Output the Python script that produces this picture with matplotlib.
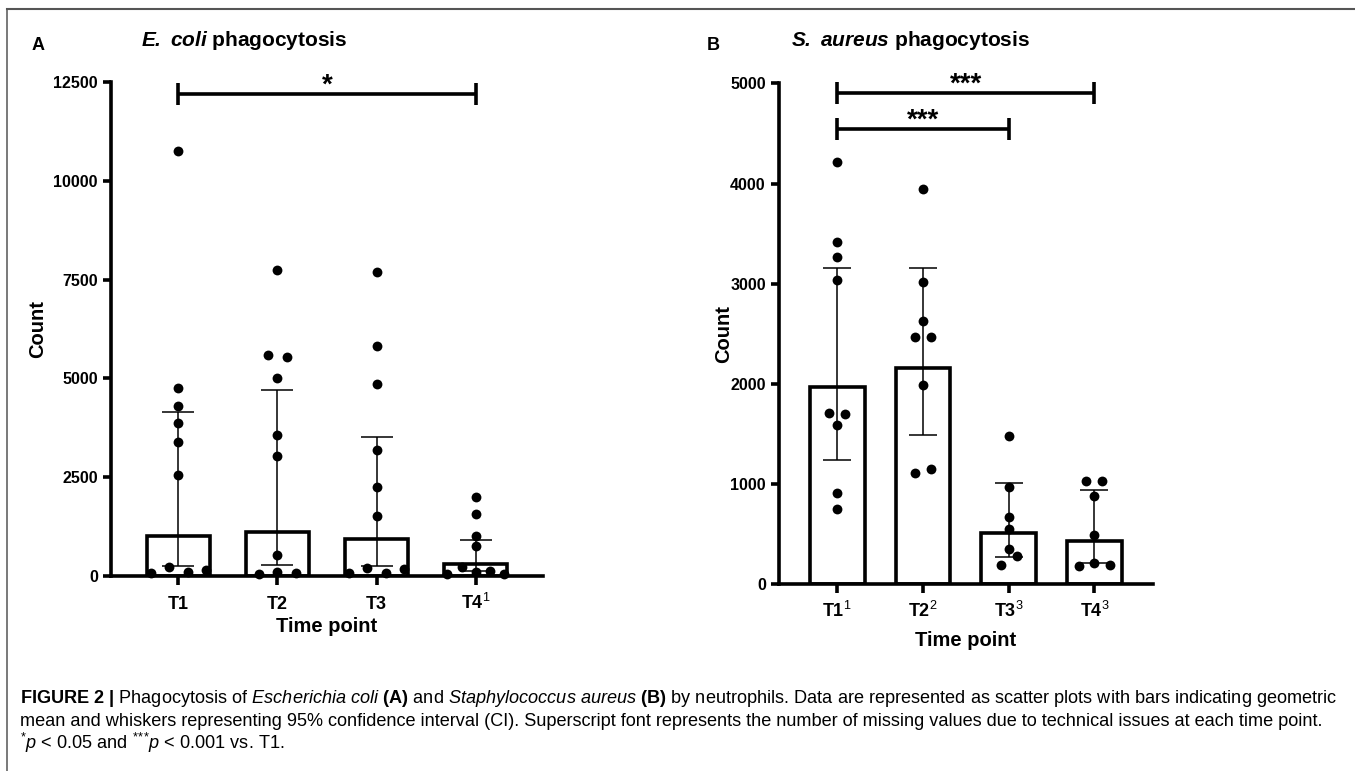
import numpy as np
import matplotlib
matplotlib.use('Agg')
import matplotlib.pyplot as plt
from matplotlib import font_manager
from matplotlib.lines import Line2D

# --- data ---
labels_a = [r'$\mathbf{T1}$', r'$\mathbf{T2}$', r'$\mathbf{T3}$', r'$\mathbf{T4}^{\mathrm{1}}$']
labels_b = [r'$\mathbf{T1}^{\mathrm{1}}$', r'$\mathbf{T2}^{\mathrm{2}}$',
            r'$\mathbf{T3}^{\mathrm{3}}$', r'$\mathbf{T4}^{\mathrm{3}}$']

ecoli_t1 = [10760, 4760, 4310, 3860, 3400, 2560, 70, 240, 90, 150]
ecoli_t2 = [7750, 5580, 5540, 5010, 3580, 3030, 530, 50, 110, 80]
ecoli_t3 = [7700, 5820, 4870, 3200, 2260, 1510, 85, 200, 85, 165]
ecoli_t4 = [1990, 1560, 1010, 750, 55, 225, 95, 130, 45]
ecoli_gmean = [1015, 1117, 940, 305]
ecoli_ci_lo = [254, 270, 254, 130]
ecoli_ci_hi = [4162, 4695, 3510, 914]

saureus_t1 = [4210, 3420, 3270, 3040, 1710, 1700, 1590, 910, 750]
saureus_t2 = [3945, 3020, 2630, 2470, 2465, 1990, 1115, 1150]
saureus_t3 = [1485, 975, 670, 550, 350, 195, 280]
saureus_t4 = [1030, 1030, 880, 490, 185, 215, 190]
saureus_gmean = [1966, 2159, 509, 435]
saureus_ci_lo = [1240, 1493, 269, 210]
saureus_ci_hi = [3154, 3154, 1008, 941]

names = {f.name for f in font_manager.fontManager.ttflist}
narrow = 'Liberation Sans Narrow' if 'Liberation Sans Narrow' in names else 'Liberation Sans'

plt.rcParams['font.family'] = 'Liberation Sans'
plt.rcParams['mathtext.fontset'] = 'custom'
plt.rcParams['mathtext.rm'] = narrow
plt.rcParams['mathtext.it'] = narrow + ':italic'
plt.rcParams['mathtext.bf'] = 'Liberation Sans:bold'
plt.rcParams['mathtext.sf'] = narrow + ':bold'
plt.rcParams['mathtext.bfit'] = 'Liberation Sans:italic:bold'

W, H = 1355, 771
fig = plt.figure(figsize=(W / 100, H / 100), dpi=100)


def px_axes(l, t, r, b):
    return fig.add_axes([l / W, 1 - b / H, (r - l) / W, (b - t) / H])


def swarm(vals, row_h, step=0.185, span=0.57):
    # points closer than one row height share a row, spread evenly around the centre
    vals = np.asarray(vals, float)
    off = np.zeros(len(vals))
    rows = []
    for idx in np.argsort(vals, kind='stable'):
        if rows and vals[idx] - vals[rows[-1][0]] < row_h:
            rows[-1].append(idx)
        else:
            rows.append([idx])
    for row in rows:
        row = sorted(row)
        n = len(row)
        if n > 1:
            d = min(step, span / (n - 1))
            for k, idx in enumerate(row):
                off[idx] = (k - (n - 1) / 2) * d
    return off


def panel(ax, groups, gmean, lo, hi, ymax, yticks, xlabels, capsize):
    x = np.arange(1, 5)
    gmean = np.array(gmean, float)
    ax.bar(x, gmean, width=0.64, color='white', edgecolor='black', linewidth=2.6, zorder=1)
    ax.errorbar(x, gmean, yerr=[gmean - np.array(lo), np.array(hi) - gmean], fmt='none',
                ecolor='black', elinewidth=1.1, capsize=capsize, capthick=1.1, zorder=2)
    ax.set_xlim(0.32, 4.68)
    ax.set_ylim(0, ymax)
    row_h = 9.5 * ymax / ax.bbox.height
    for i, vals in enumerate(groups):
        ax.scatter(x[i] + swarm(vals, row_h), vals, s=50, color='black', linewidths=0,
                   zorder=3, clip_on=False)
    for s in ('top', 'right'):
        ax.spines[s].set_visible(False)
    for s in ('left', 'bottom'):
        ax.spines[s].set_linewidth(2.6)
    ax.set_yticks(yticks)
    ax.set_xticks(x)
    ax.set_xticklabels(xlabels)
    ax.tick_params(axis='y', width=2.6, length=6, labelsize=11.5, pad=3.5)
    ax.tick_params(axis='x', width=2.6, length=6.5, labelsize=13, pad=17)
    for t in ax.get_yticklabels():
        t.set_fontweight('bold')
    for t in ax.get_xticklabels():
        t.set_verticalalignment('baseline')
    ax.set_ylabel('Count', fontsize=14.5, fontweight='bold')
    ax.set_xlabel('Time point', fontsize=14.5, fontweight='bold')


def bracket(ax, x1, x2, y, stars):
    h = 11 * ax.get_ylim()[1] / ax.bbox.height
    kw = dict(color='black', lw=2.6, clip_on=False, solid_capstyle='butt')
    ax.plot([x1, x2], [y, y], **kw)
    ax.plot([x1, x1], [y - h, y + h], **kw)
    ax.plot([x2, x2], [y - h, y + h], **kw)
    ax.annotate(stars, xy=((x1 + x2) / 2, y), xytext=(0, 1), textcoords='offset points',
                ha='center', va='baseline', fontsize=20, fontweight='bold')


axA = px_axes(111, 82, 543, 576)
panel(axA, [ecoli_t1, ecoli_t2, ecoli_t3, ecoli_t4], ecoli_gmean, ecoli_ci_lo, ecoli_ci_hi,
      12500, [0, 2500, 5000, 7500, 10000, 12500], labels_a, 11.5)
bracket(axA, 1, 4, 12190, '*')
axA.yaxis.set_label_coords(-0.148, 0.5)
axA.xaxis.set_label_coords(0.5, -0.083)

axB = px_axes(779, 83.3, 1152.7, 584.3)
panel(axB, [saureus_t1, saureus_t2, saureus_t3, saureus_t4], saureus_gmean, saureus_ci_lo,
      saureus_ci_hi, 5000, [0, 1000, 2000, 3000, 4000, 5000], labels_b, 10)
bracket(axB, 1, 4, 4906, '***')
bracket(axB, 1, 3, 4541, '***')
axB.yaxis.set_label_coords(-0.123, 0.5)
axB.xaxis.set_label_coords(0.5, -0.093)

# panel letters and titles
fig.text(38 / W, 1 - 45 / H, 'A', fontsize=13, fontweight='bold', ha='center', va='center')
fig.text(713 / W, 1 - 45 / H, 'B', fontsize=13, fontweight='bold', ha='center', va='center')
fig.text(244 / W, 1 - 40 / H, r'$\mathbfit{E.}$ $\mathbfit{coli}$ phagocytosis', fontsize=15,
         fontweight='bold', ha='center', va='center')
fig.text(910 / W, 1 - 40 / H, r'$\mathbfit{S.}$ $\mathbfit{aureus}$ phagocytosis', fontsize=15,
         fontweight='bold', ha='center', va='center')

# frame
fig.add_artist(Line2D([7 / W, 7 / W], [0, 1 - 9 / H], color='#555555', lw=1.1))
fig.add_artist(Line2D([7 / W, 1], [1 - 9 / H, 1 - 9 / H], color='#555555', lw=1.5))

# caption
cap_lines = [
    r'$\mathsf{FIGURE\ 2\ |}$ Phagocytosis of $\mathit{Escherichia\ coli}$ $\mathsf{(A)}$ and '
    r'$\mathit{Staphylococcus\ aureus}$ $\mathsf{(B)}$ by neutrophils. Data are represented as '
    r'scatter plots with bars indicating geometric',
    'mean and whiskers representing 95% confidence interval (CI). Superscript font represents '
    'the number of missing values due to technical issues at each time point.',
    r'${}^{*}\mathit{p}$ < 0.05 and ${}^{*}{}^{*}{}^{*}\mathit{p}$ < 0.001 vs. T1.',
]
cap_texts = [fig.text(20 / W, 1 - yb / H, s, fontsize=12, family=narrow, ha='left', va='baseline')
             for s, yb in zip(cap_lines, [703, 726, 749])]
fig.canvas.draw()
w = cap_texts[0].get_window_extent().width
for t in cap_texts:
    t.set_fontsize(12 * 1320 / w)

fig.savefig('out.png', dpi=100)
